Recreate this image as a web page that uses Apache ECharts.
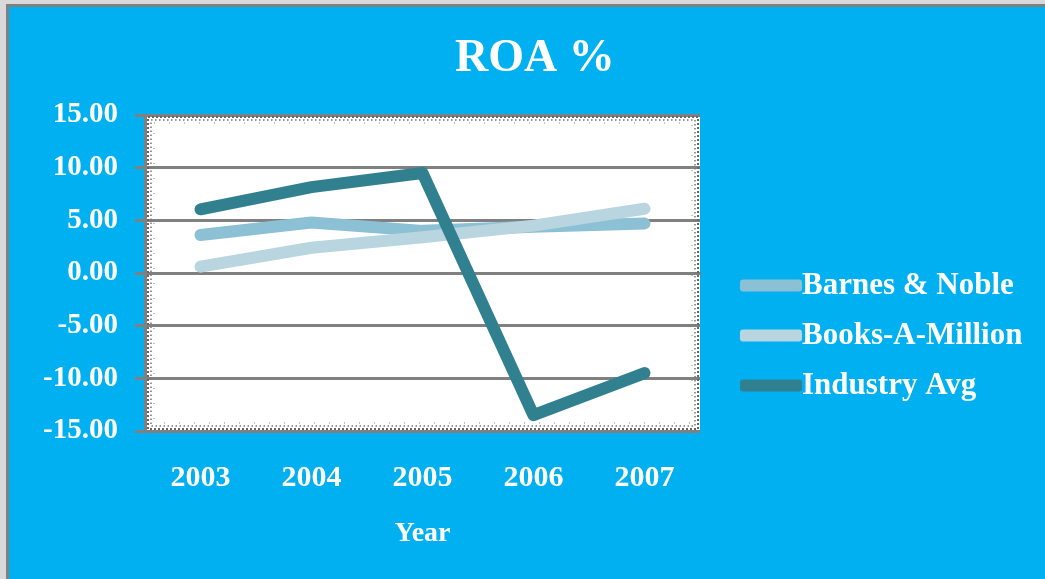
<!DOCTYPE html>
<html>
<head>
<meta charset="utf-8">
<script src="https://cdn.jsdelivr.net/npm/echarts@6/dist/echarts.min.js"></script>
<style>
html,body{margin:0;padding:0;background:#d9d9d9;}
#chart{position:absolute;left:0;top:0;width:1045px;height:579px;}
</style>
</head>
<body>
<div id="chart"></div>
<script>
var years = ['2003', '2004', '2005', '2006', '2007'];
var barnesNoble = [3.6, 4.8, 4.0, 4.4, 4.7];
var booksAMillion = [0.6, 2.4, 3.4, 4.5, 6.1];
var industryAvg = [6.05, 8.15, 9.5, -13.5, -9.5];
var seriesNames = ['Barnes & Noble', 'Books-A-Million', 'Industry Avg'];
var seriesColors = ['#8CC0D4', '#B8D5E0', '#31808F'];

var font = '"Liberation Serif", "Times New Roman", serif';
var G = {left: 145, top: 115, right: 700, bottom: 431};

var chart = echarts.init(document.getElementById('chart'));
var dataSets = [barnesNoble, booksAMillion, industryAvg];

chart.setOption({
  backgroundColor: '#00B0F0',
  animation: false,
  title: {
    text: 'ROA %',
    left: 450,
    top: 31,
    textStyle: {color: '#fff', fontFamily: font, fontWeight: 'bold', fontSize: 46}
  },
  legend: {
    orient: 'vertical',
    left: 735,
    top: 265,
    itemWidth: 62,
    itemHeight: 12,
    itemGap: 19,
    icon: 'roundRect',
    textStyle: {color: '#fff', fontFamily: font, fontWeight: 'bold', fontSize: 31, padding: [0, 0, 0, -5]},
    data: seriesNames
  },
  grid: {
    left: G.left, top: G.top, width: G.right - G.left, height: G.bottom - G.top,
    show: true, backgroundColor: '#fff', borderWidth: 0
  },
  xAxis: {
    type: 'category',
    data: years,
    boundaryGap: true,
    name: 'Year',
    nameLocation: 'middle',
    nameGap: 89,
    nameTextStyle: {color: '#fff', fontFamily: font, fontWeight: 'bold', fontSize: 28},
    axisLine: {show: true, lineStyle: {color: '#808080', width: 3}},
    axisTick: {show: false},
    axisLabel: {color: '#fff', fontFamily: font, fontWeight: 'bold', fontSize: 30, margin: 32}
  },
  yAxis: {
    type: 'value',
    min: -15, max: 15, interval: 5,
    axisLine: {show: true, lineStyle: {color: '#808080', width: 3}},
    axisTick: {show: true, length: 10, lineStyle: {color: '#808080', width: 3}},
    axisLabel: {
      color: '#fff', fontFamily: font, fontWeight: 'bold', fontSize: 29, margin: 27,
      formatter: function (v) { return v.toFixed(2); }
    },
    splitLine: {show: true, lineStyle: {color: '#808080', width: 3}}
  },
  graphic: [
    {type: 'rect', z: 0, silent: true, shape: {x: 0, y: 0, width: 1045, height: 4}, style: {fill: '#d9d9d9'}},
    {type: 'rect', z: 0, silent: true, shape: {x: 0, y: 0, width: 6, height: 579}, style: {fill: '#d9d9d9'}},
    {type: 'rect', z: 0, silent: true, shape: {x: 6, y: 4, width: 1039, height: 3}, style: {fill: '#808080'}},
    {type: 'rect', z: 0, silent: true, shape: {x: 6, y: 4, width: 3, height: 575}, style: {fill: '#808080'}},
    {type: 'rect', z: 1, silent: true,
      shape: {x: G.left + 3, y: G.top + 2, width: G.right - G.left - 5, height: G.bottom - G.top - 4},
      style: {fill: 'none', stroke: '#666', lineWidth: 2, lineDash: [2, 2]}},
    {type: 'rect', z: 1, silent: true,
      shape: {x: G.left + 6, y: G.top + 5, width: G.right - G.left - 11, height: G.bottom - G.top - 10},
      style: {fill: 'none', stroke: '#777', lineWidth: 1.5, lineDash: [1.5, 2.5]}},
    {type: 'rect', z: 1, silent: true,
      shape: {x: G.left + 9, y: G.top + 8, width: G.right - G.left - 17, height: G.bottom - G.top - 16},
      style: {fill: 'none', stroke: '#888', lineWidth: 1, lineDash: [1, 14]}}
  ],
  series: seriesNames.map(function (n, i) {
    return {
      name: n,
      type: 'line',
      data: dataSets[i],
      symbol: 'none',
      color: seriesColors[i],
      z: 3 + i,
      lineStyle: {width: 12, color: seriesColors[i], cap: 'round', join: 'round'}
    };
  })
});
</script>
</body>
</html>
